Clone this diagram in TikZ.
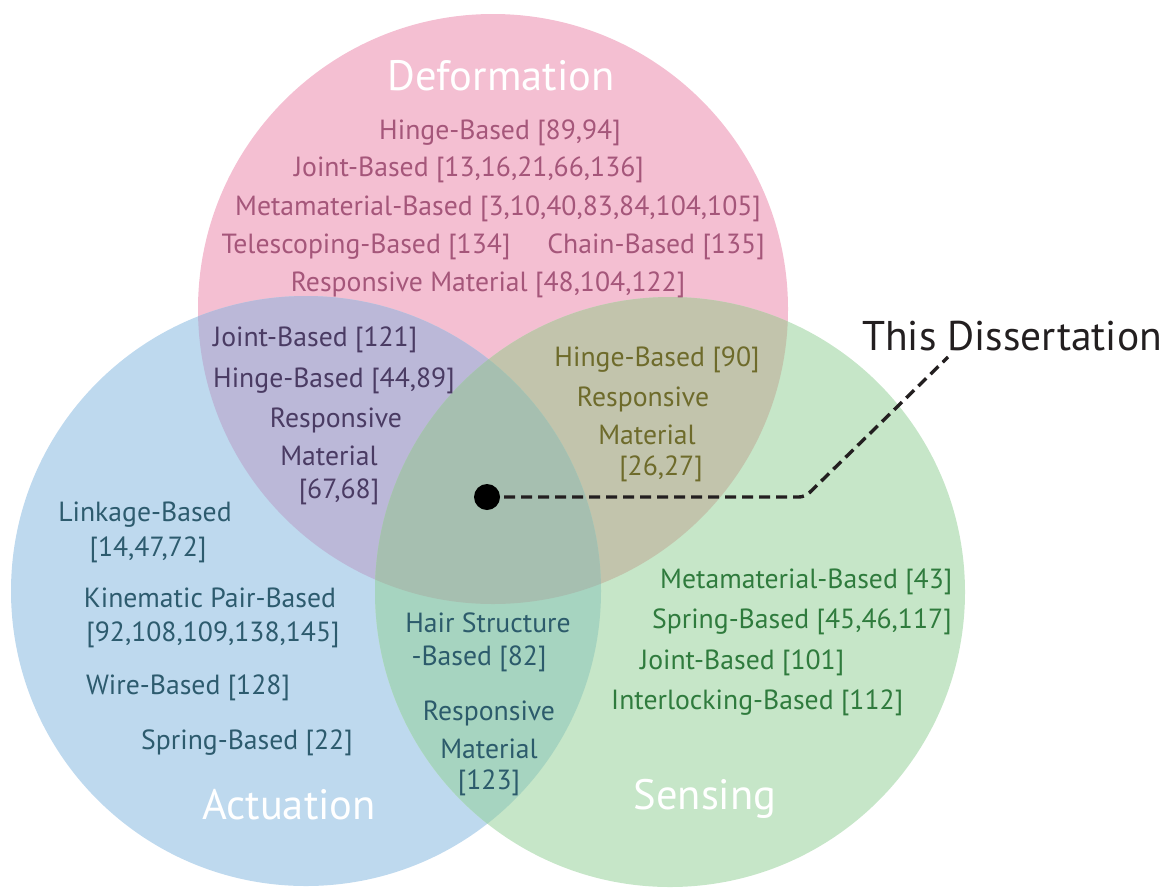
\documentclass[tikz,border=0pt]{standalone}
\usepackage{fontspec}
\setmainfont{PT Sans}
\definecolor{pinkc}{HTML}{F4BFD2}
\definecolor{bluec}{HTML}{BED9EE}
\definecolor{greenc}{HTML}{C6E6C8}
\definecolor{pbc}{HTML}{BBB8D8}
\definecolor{pgc}{HTML}{C2C4AC}
\definecolor{bgc}{HTML}{A6D4C0}
\definecolor{allc}{HTML}{A6BFB0}
\definecolor{pinktxt}{HTML}{A5567A}
\definecolor{pbtxt}{HTML}{4A3B63}
\definecolor{bluetxt}{HTML}{2D5B6E}
\definecolor{pgtxt}{HTML}{6E6B2B}
\definecolor{greentxt}{HTML}{2F7B3D}
\definecolor{bgtxt}{HTML}{2C5B6B}
\definecolor{darktxt}{HTML}{231F20}
\newcommand\bodysize{\fontsize{27.7}{30}\selectfont}
\newcommand\titlesize{\fontsize{42.5}{46}\selectfont}
\begin{document}
\begin{tikzpicture}[x=1pt,y=-1pt,
  lbl/.style={font=\bodysize, inner sep=0pt, anchor=center, yshift=-2.5pt},
  pt/.style={lbl, text=pinktxt},
  pbt/.style={lbl, text=pbtxt},
  blt/.style={lbl, text=bluetxt},
  pgt/.style={lbl, text=pgtxt},
  grt/.style={lbl, text=greentxt},
  bgt/.style={lbl, text=bgtxt},
  ttl/.style={font=\titlesize, text=white, inner sep=0pt, anchor=center},
  leader/.style={dash pattern=on 11pt off 6pt, line width=3.4pt, draw=darktxt, rounded corners=6pt}
]
\useasboundingbox (0,0) rectangle (1169,892);
\coordinate (P) at (493,309);
\coordinate (B) at (306,591);
\coordinate (G) at (670,592);
\def\R{295}
% base circles
\fill[pinkc] (P) circle (\R);
\fill[bluec] (B) circle (\R);
\fill[greenc] (G) circle (\R);
% pairwise overlaps
\begin{scope}
  \clip (P) circle (\R);
  \fill[pbc] (B) circle (\R);
  \fill[pgc] (G) circle (\R);
\end{scope}
\begin{scope}
  \clip (B) circle (\R);
  \fill[bgc] (G) circle (\R);
\end{scope}
\begin{scope}
  \clip (P) circle (\R);
  \clip (B) circle (\R);
  \fill[allc] (G) circle (\R);
\end{scope}
% titles
\node[ttl] (tdef) at (501,76) {Deformation};
\node[ttl] (tact) at (289,805) {Actuation};
\node[ttl] (tsen) at (705,799) {Sensing};
% Deformation
\node[pt] (d1) at (500,130) {Hinge-Based [89,94]};
\node[pt] (d2) at (469,167) {Joint-Based [13,16,21,66,136]};
\node[pt] (d3) at (498,206) {Metamaterial-Based [3,10,40,83,84,104,105]};
\node[pt] (d4) at (366,244) {Telescoping-Based [134]};
\node[pt] (d5) at (656,244) {Chain-Based [135]};
\node[pt] (d6) at (488,282) {Responsive Material [48,104,122]};
% Deformation & Actuation
\node[pbt, anchor=west] (pb1) at (213,337) {Joint-Based [121]};
\node[pbt, anchor=west] (pb2) at (213,378) {Hinge-Based [44,89]};
\node[pbt] (pb3) at (336,418) {Responsive};
\node[pbt] (pb4) at (329,453) {Material};
\node[pbt] (pb5) at (339,489) {[67,68]};
% Actuation
\node[blt] (b1) at (145,512) {Linkage-Based};
\node[blt] (b2) at (148,547) {[14,47,72]};
\node[blt] (b3) at (210,595) {Kinematic Pair-Based};
\node[blt] (b4) at (213,632) {[92,108,109,138,145]};
\node[blt] (b5) at (188,685) {Wire-Based [128]};
\node[blt] (b6) at (247,740) {Spring-Based [22]};
% Deformation & Sensing
\node[pgt] (pg1) at (657,357) {Hinge-Based [90]};
\node[pgt] (pg2) at (643,397) {Responsive};
\node[pgt] (pg3) at (647,432) {Material};
\node[pgt] (pg4) at (661,466) {[26,27]};
% Sensing
\node[grt, anchor=west] (g1) at (660,579) {Metamaterial-Based [43]};
\node[grt, anchor=west] (g2) at (652,619) {Spring-Based [45,46,117]};
\node[grt, anchor=west] (g3) at (640,660) {Joint-Based [101]};
\node[grt, anchor=west] (g4) at (611,700) {Interlocking-Based [112]};
% Actuation & Sensing
\node[bgt] (bg1) at (488,620) {Hair Structure};
\node[bgt] (bg2) at (479,656) {-Based [82]};
\node[bgt] (bg3) at (489,711) {Responsive};
\node[bgt] (bg4) at (489,746) {Material};
\node[bgt] (bg5) at (489,780) {[123]};
% This Dissertation
\node[font=\fontsize{41.5}{45}\selectfont, text=darktxt, inner sep=0pt, anchor=west] (this) at (862,336) {This Dissertation};
\coordinate (bend) at (805,497);
\coordinate (tip) at (948,357);
\draw[leader] (487,497) -- (bend) -- (tip);
\node[circle, fill=black, minimum size=26pt, inner sep=0pt] (dot) at (487,497) {};
\end{tikzpicture}
\end{document}
